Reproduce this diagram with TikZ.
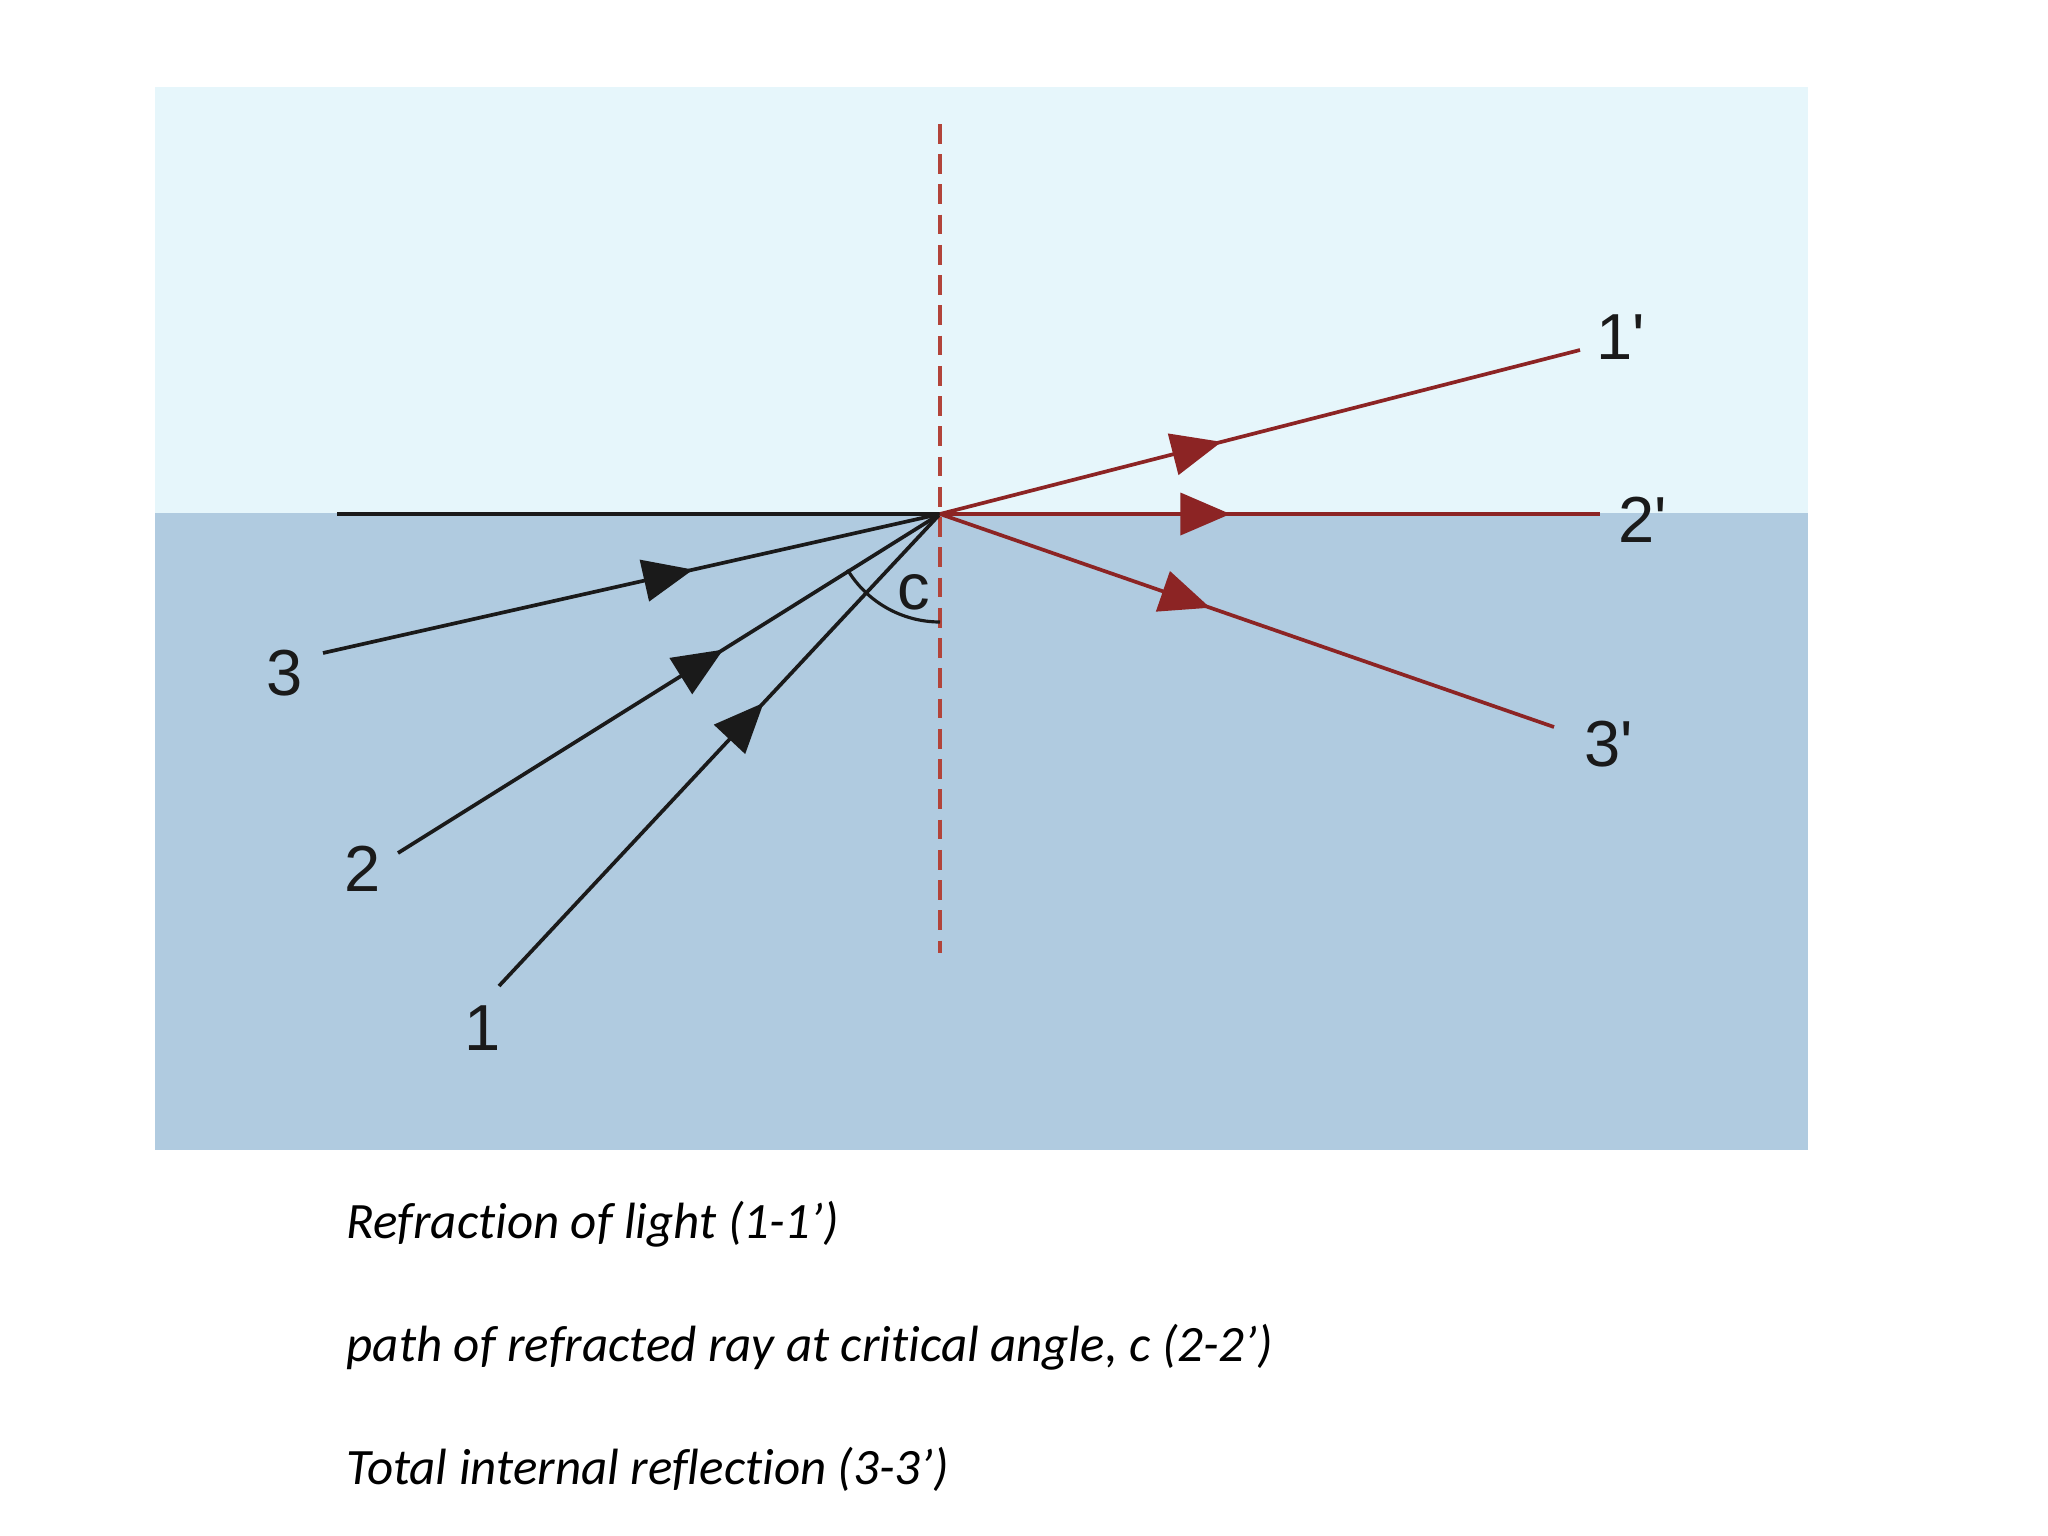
\documentclass[tikz,border=0pt]{standalone}
\usepackage{fontspec}
\setmainfont{Liberation Sans}
\newfontfamily\capfont[Ligatures={TeX,NoCommon}]{Carlito}
\usetikzlibrary{arrows.meta,decorations.markings}
\definecolor{skyc}{RGB}{230,246,251}
\definecolor{waterc}{RGB}{176,203,224}
\definecolor{redray}{RGB}{140,36,36}
\definecolor{normalc}{RGB}{178,68,58}
\definecolor{inkc}{RGB}{26,26,26}
\begin{document}
\begin{tikzpicture}[x=0.01cm,y=-0.01cm,
  rayline/.style={line width=1.05pt},
  midarrow/.style={postaction={decorate},decoration={markings,mark=at position #1 with {\arrow{Triangle[length=5mm,width=4.2mm]}}}},
  lbl/.style={font=\fontsize{18.5}{22}\selectfont, inner sep=0pt, text=inkc},
  captext/.style={font=\capfont\itshape\fontsize{14.5}{17}\selectfont, anchor=base west, inner sep=0pt, text=black}
]
\useasboundingbox (0,0) rectangle (2048,1536);
\fill[white] (0,0) rectangle (2048,1536);
\fill[skyc] (155,87) rectangle (1808,513);
\fill[waterc] (155,513) rectangle (1808,1150);

\coordinate (O) at (940,514);
\coordinate (ifl) at (337,514);
\coordinate (ntop) at (940,124);
\coordinate (nbot) at (940,953);
\coordinate (s1) at (499,986);
\coordinate (s2) at (398,853);
\coordinate (s3) at (323,653);
\coordinate (e1) at (1580,350);
\coordinate (e2) at (1600,514);
\coordinate (e3) at (1554,727);

% interface line
\draw[inkc, rayline] (ifl) -- (O);
% normal
\draw[normalc, line width=1.2pt, dash pattern=on 5.6pt off 3pt] (ntop) -- (nbot);

% incident rays
\draw[inkc, rayline, midarrow=0.6] (s1) -- (O);
\draw[inkc, rayline, midarrow=0.6] (s2) -- (O);
\draw[inkc, rayline, midarrow=0.6] (s3) -- (O);

% refracted / reflected rays
\draw[redray, rayline, midarrow=0.44] (O) -- (e1);
\draw[redray, rayline, midarrow=0.44] (O) -- (e2);
\draw[redray, rayline, midarrow=0.44] (O) -- (e3);

% critical angle arc
\draw[inkc, line width=0.9pt] (940,622) arc[start angle=90, end angle=149, radius=108];

% labels
\node[lbl] (l1p) at (1621,337) {1\textquotesingle};
\node[lbl] (l2p) at (1643,520) {2\textquotesingle};
\node[lbl] (l3p) at (1609,744) {3\textquotesingle};
\node[lbl] (l3) at (285,673) {3};
\node[lbl] (l2) at (363,869) {2};
\node[lbl] (l1) at (483,1028) {1};
\node[lbl] (lc) at (914,592) {c};

% captions
\node[captext] (cap1) at (346,1238) {Refraction of light (1-1’)};
\node[captext] (cap2) at (346,1361) {path of refracted ray at critical angle, c (2-2’)};
\node[captext] (cap3) at (346,1484) {Total internal reflection (3-3’)};
\end{tikzpicture}
\end{document}
